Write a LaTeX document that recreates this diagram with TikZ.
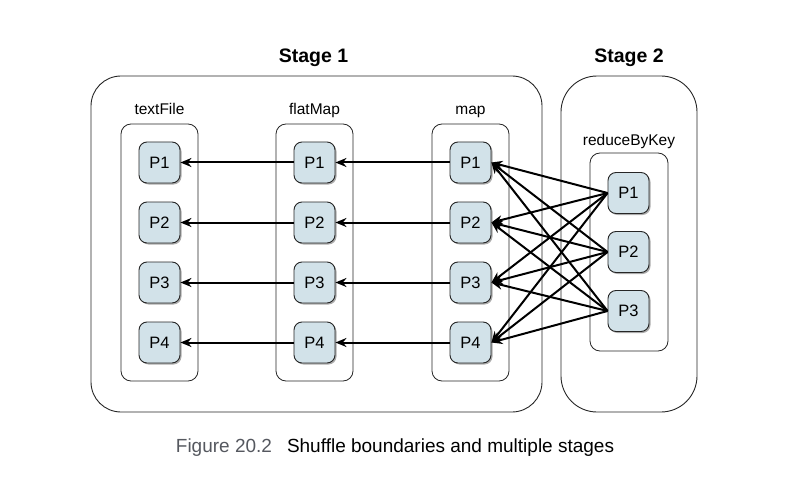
\documentclass[tikz,border=0pt]{standalone}
\usepackage{fontspec}
\setmainfont{Liberation Sans}
\usepackage{tikz}
\usetikzlibrary{positioning, arrows.meta, shadows}
\definecolor{pcolor}{RGB}{210,226,233}
\definecolor{capcolor}{RGB}{85,88,95}

\begin{document}
\begin{tikzpicture}[x=1pt, y=-1pt,
    pbox/.style={draw=black!85, line width=0.9pt, fill=pcolor, rounded corners=8pt, minimum size=41pt, inner sep=0pt,
      font=\fontsize{16.5}{18}\selectfont,
      drop shadow={shadow xshift=1.5pt, shadow yshift=-1.5pt, fill=black!65}},
    colbox/.style={draw=black!85, line width=0.8pt, rounded corners=10pt, minimum width=77pt, inner sep=0pt},
    stagebox/.style={draw=black!85, line width=0.9pt, inner sep=0pt, minimum height=336pt},
    lbl/.style={anchor=base, font=\fontsize{15.5}{18}\selectfont},
    stagetitle/.style={anchor=base, font=\fontsize{19.5}{22}\selectfont\bfseries},
    flow/.style={-{Stealth[length=11pt, width=9pt]}, line width=2pt}]
    \useasboundingbox (0,0) rectangle (790,484);

    % Stages
    \node[stagebox, rounded corners=30pt, minimum width=451pt] (stage1) at (316.5,244) {};
    \node[stagebox, rounded corners=36pt, minimum width=136pt] (stage2) at (629,244) {};
    \node[stagetitle] (s1title) at (313.5,63) {Stage 1};
    \node[stagetitle] (s2title) at (629,63) {Stage 2};

    % Colonnes
    \node[colbox, minimum height=257pt] (tfbox) at (159.5,252.5) {};
    \node[colbox, minimum height=257pt] (fmbox) at (314.5,252.5) {};
    \node[colbox, minimum height=257pt] (mapbox) at (470.5,252.5) {};
    \node[colbox, minimum width=78pt, minimum height=198pt] (rbkbox) at (629,252) {};
    \node[lbl] (tflbl) at (159.5,115) {textFile};
    \node[lbl] (fmlbl) at (314.5,115) {flatMap};
    \node[lbl] (maplbl) at (470.5,115) {map};
    \node[lbl] (rbklbl) at (629,146) {reduceByKey};

    % Partitions
    \foreach \i in {1,...,4} {
      \node[pbox] (t\i) at (159.5,102.5+60*\i) {P\i};
      \node[pbox] (f\i) at (314.5,102.5+60*\i) {P\i};
      \node[pbox] (m\i) at (470.5,102.5+60*\i) {P\i};
    }
    \foreach \i in {1,2,3}
      \node[pbox] (r\i) at (628.5,134+59*\i) {P\i};

    % Dependances etroites
    \foreach \i in {1,...,4} {
      \draw[flow] (f\i) -- (t\i);
      \draw[flow] (m\i) -- (f\i);
    }

    % Shuffle
    \foreach \i in {1,2,3}
      \foreach \j in {1,...,4}
        \draw[flow] (r\i.west) -- (m\j.east);

    % Legende
    \node[anchor=base, font=\fontsize{19}{22}\selectfont] (caption) at (395,452)
      {{\color{capcolor}Figure 20.2}\hspace{15pt}Shuffle boundaries and multiple stages};
\end{tikzpicture}
\end{document}
